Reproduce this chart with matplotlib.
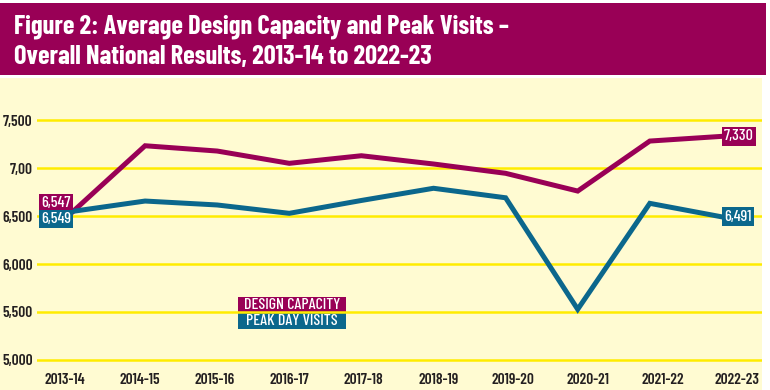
import matplotlib
matplotlib.use("Agg")
import matplotlib.pyplot as plt
from matplotlib.patches import Rectangle

FONTS = ['Barlow Condensed', 'Roboto Condensed', 'Asap Condensed', 'DejaVu Sans']
plt.rcParams['font.family'] = FONTS

years = ["2013-14", "2014-15", "2015-16", "2016-17", "2017-18",
         "2018-19", "2019-20", "2020-21", "2021-22", "2022-23"]
design_capacity = [6547, 7232, 7177, 7049, 7128, 7042, 6945, 6760, 7281, 7330]
peak_day_visits = [6549, 6656, 6615, 6528, 6662, 6789, 6690, 5528, 6632, 6491]
y_ticks = [5000, 5500, 6000, 6500, 7000, 7500]
y_tick_labels = ["5,000", "5,500", "6,000", "6,500", "7,00", "7,500"]
legend_labels = ["DESIGN CAPACITY", "PEAK DAY VISITS"]

MAGENTA = "#990056"
BLUE = "#0B678C"
BG = "#FFFBD2"
GRID = "#FFEC00"
TEXT = "#231F20"

fig = plt.figure(figsize=(7.7, 3.9), dpi=100)
fig.patch.set_facecolor("white")

# background panel
fig.patches.append(Rectangle((0, 0), 762 / 770, 312 / 390, transform=fig.transFigure,
                             facecolor=BG, edgecolor="none", zorder=0))
# header band
fig.patches.append(Rectangle((0, 1 - 75 / 390), 766 / 770, 72 / 390, transform=fig.transFigure,
                             facecolor=MAGENTA, edgecolor="none", zorder=1))
fig.text(14 / 770, 1 - 27 / 390, "Figure 2: Average Design Capacity and Peak Visits \u2013",
         color="white", fontsize=19, fontweight="bold", va="center", ha="left", zorder=2)
fig.text(14 / 770, 1 - 57 / 390, "Overall National Results, 2013-14 to 2022-23",
         color="white", fontsize=19, fontweight="bold", va="center", ha="left", zorder=2)

ax = fig.add_axes([37 / 770, 1 - 362 / 390, 725 / 770, 277 / 390])
ax.set_zorder(5)
ax.set_facecolor("none")
x = list(range(len(years)))
ax.set_xlim(-0.499, 9.556)
ax.set_ylim(4979, 7865)

for yt in y_ticks:
    ax.axhline(yt, color=GRID, lw=1.8, zorder=1)

ax.plot(x, design_capacity, color=MAGENTA, lw=3.6, solid_joinstyle="miter", zorder=3)
ax.plot(x, peak_day_visits, color=BLUE, lw=3.6, solid_joinstyle="miter", zorder=3)

ax.set_yticks(y_ticks)
ax.set_yticklabels(y_tick_labels)
# category labels are spaced slightly wider than the plotted points in the original
ax.set_xticks([-0.111 + 1.0356 * i for i in x])
ax.set_xticklabels(years)
ax.tick_params(length=0, labelsize=11, colors=TEXT)
ax.tick_params(axis="x", pad=8)
ax.tick_params(axis="y", pad=3)
for lbl in ax.get_xticklabels() + ax.get_yticklabels():
    lbl.set_fontweight("semibold")
for s in ax.spines.values():
    s.set_visible(False)

def box(xv, yv, text, color, dx, dy, ha):
    ax.annotate(text, (xv, yv), xytext=(dx, dy), textcoords="offset points",
                ha=ha, va="center", color="white", fontsize=11.5, fontweight="medium",
                zorder=6, bbox=dict(boxstyle="square,pad=0.15", fc=color, ec="none"))

box(x[0], design_capacity[0], f"{design_capacity[0]:,}", MAGENTA, -1.5, 6.0, "right")
box(x[0], peak_day_visits[0], f"{peak_day_visits[0]:,}", BLUE, -1.5, -5.6, "right")
box(x[-1], design_capacity[-1], f"{design_capacity[-1]:,}", MAGENTA, 1.5, 0, "left")
box(x[-1], peak_day_visits[-1], f"{peak_day_visits[-1]:,}", BLUE, 1.5, 0, "left")

# legend: two stacked boxes of equal width
t1 = ax.text(3.04, 5573, legend_labels[0], color="white", fontsize=11.5, fontweight="medium",
             ha="center", va="center", zorder=7)
t2 = ax.text(3.04, 5406, legend_labels[1], color="white", fontsize=11.5, fontweight="medium",
             ha="center", va="center", zorder=7)
fig.canvas.draw()
r = fig.canvas.get_renderer()
e1, e2 = t1.get_window_extent(r), t2.get_window_extent(r)
x0 = min(e1.x0, e2.x0) - 6
x1 = max(e1.x1, e2.x1) + 6
c1 = (e1.y0 + e1.y1) / 2
c2 = (e2.y0 + e2.y1) / 2
h = c1 - c2
inv = fig.transFigure.inverted()
for c, col in ((c1, MAGENTA), (c2, BLUE)):
    (fx0, fy0), (fx1, fy1) = inv.transform([(x0, c - h / 2), (x1, c + h / 2)])
    fig.patches.append(Rectangle((fx0, fy0), fx1 - fx0, fy1 - fy0, transform=fig.transFigure,
                                 facecolor=col, edgecolor="none", zorder=4))

fig.savefig("out.png", dpi=100, facecolor="white")
